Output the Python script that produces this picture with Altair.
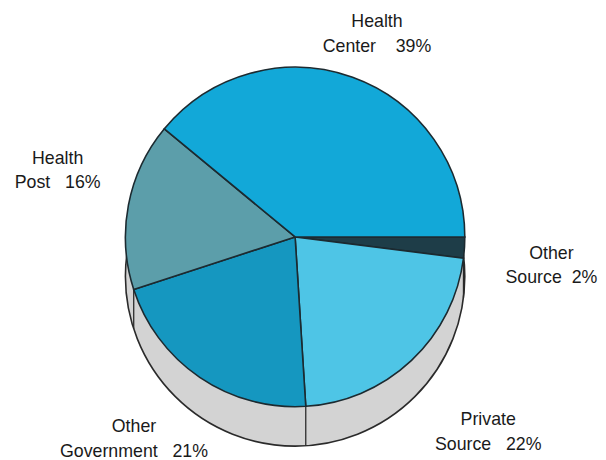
import math
import altair as alt
import pandas as pd

categories = ["Other Source", "Private Source", "Other Government", "Health Post", "Health Center"]
values = [2, 22, 21, 16, 39]
label_top = ["Other", "Private", "Other", "Health", "Health"]
label_bottom = ["Source\u00a0\u00a0", "Source\u00a0\u00a0\u00a0", "Government\u00a0\u00a0\u00a0",
                "Post\u00a0\u00a0\u00a0", "Center\u00a0\u00a0\u00a0\u00a0"]
colors = ["#1e3d48", "#4ec5e6", "#1597c0", "#5c9eaa", "#12a8d8"]

labels = [f"{t}\n{b}{v}%" for t, b, v in zip(label_top, label_bottom, values)]
df = pd.DataFrame({"cat": categories, "value": values, "order": list(range(len(values))), "label": labels})

start = math.pi / 2
theta_scale = alt.Scale(range=[start, start + 2 * math.pi])
CX, CY, R, DEPTH = 291, 229, 172, 40

base = alt.Chart(df)
cum = base.transform_window(
    cum="sum(value)", sort=[alt.SortField("order")], frame=[None, 0]
).transform_joinaggregate(tot="sum(value)")

wall = base.transform_aggregate(total="sum(value)").mark_arc(
    radius=R, fill="#d3d3d3", stroke="#2a2a2a", strokeWidth=1.6
).encode(
    theta=alt.Theta("total:Q", scale=alt.Scale(range=[0, 2 * math.pi])),
    x=alt.value(CX), y=alt.value(CY + DEPTH),
)

edges = cum.transform_calculate(
    ang=f"datum.cum/datum.tot*2*PI + {start}"
).transform_filter("cos(datum.ang) < -0.001").transform_calculate(
    bx=f"{CX} + {R}*sin(datum.ang)",
    by=f"{CY} - {R}*cos(datum.ang)",
    by2=f"{CY} - {R}*cos(datum.ang) + {DEPTH}",
).mark_rule(color="#2a2a2a", strokeWidth=1.3).encode(
    x=alt.X("bx:Q", scale=None),
    y=alt.Y("by:Q", scale=None),
    y2=alt.Y2("by2:Q"),
)

pie = base.mark_arc(radius=R, stroke="#1c2a30", strokeWidth=1.6).encode(
    theta=alt.Theta("value:Q", stack=True, scale=theta_scale),
    order=alt.Order("order:Q"),
    color=alt.Color("cat:N", scale=alt.Scale(domain=categories, range=colors), legend=None),
    x=alt.value(CX), y=alt.value(CY),
)

text = cum.transform_calculate(
    mid=f"(datum.cum - datum.value/2)/datum.tot*2*PI + {start}",
).transform_calculate(
    s="sin(datum.mid)", c="cos(datum.mid)",
).transform_calculate(
    lx=f"{CX} + 245*datum.s + 55*datum.s*max(-datum.c, 0) + 12*pow(max(datum.s, 0), 8)",
    ly=f"{CY} - 220*datum.c + 46*max(-datum.c, 0) - 26*max(-datum.s, 0) + 6*max(datum.s, 0) + 7*pow(max(datum.s, 0), 8)",
).mark_text(
    lineBreak="\n", font="Liberation Sans", fontSize=18, color="#1a1a1a",
    align="center", baseline="middle", lineHeight=25, dy=-12.5,
).encode(
    x=alt.X("lx:Q", scale=None),
    y=alt.Y("ly:Q", scale=None),
    text="label:N",
)

chart = alt.layer(wall, edges, pie, text).resolve_scale(theta="independent").properties(
    width=598, height=452, padding=0,
    autosize=alt.AutoSizeParams(type="none"),
    background="#ffffff",
).configure_view(stroke=None)

chart.save("out.html", embed_options={"renderer": "svg", "actions": False})
